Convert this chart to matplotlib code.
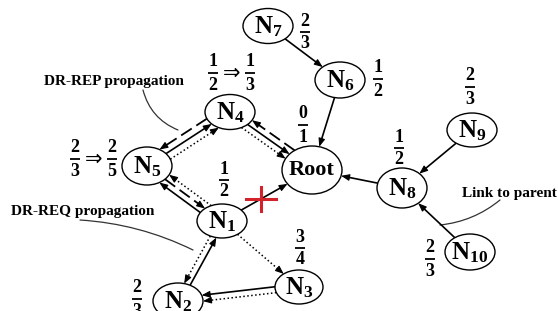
import numpy as np
import matplotlib.pyplot as plt
from matplotlib.patches import Ellipse, FancyArrowPatch

plt.rcParams['mathtext.fontset'] = 'custom'
plt.rcParams['mathtext.rm'] = 'Liberation Serif:bold'
plt.rcParams['mathtext.it'] = 'Liberation Serif:bold'
plt.rcParams['mathtext.bf'] = 'Liberation Serif:bold'

# ======================== DATA ============================
NODES = ['Root', 'N1', 'N2', 'N3', 'N4', 'N5', 'N6', 'N7', 'N8', 'N9', 'N10']
LABELS = ['Root', r'$\mathrm{N}_{1}$', r'$\mathrm{N}_{2}$', r'$\mathrm{N}_{3}$',
          r'$\mathrm{N}_{4}$', r'$\mathrm{N}_{5}$', r'$\mathrm{N}_{6}$',
          r'$\mathrm{N}_{7}$', r'$\mathrm{N}_{8}$', r'$\mathrm{N}_{9}$',
          r'$\mathrm{N}_{10}$']
# rank of each node (numerator, denominator), and the new rank after the update
RANK = [(0, 1), (1, 2), (2, 3), (3, 4), (1, 2), (2, 3), (1, 2), (2, 3), (1, 2), (2, 3), (2, 3)]
NEW_RANK = [None, None, None, None, (1, 3), (2, 5), None, None, None, None, None]

# (from, to, kind)   kind: parent = solid, req = dotted, rep = dashed
EDGES = [
    ('N7', 'N6', 'parent'), ('N6', 'Root', 'parent'), ('N9', 'N8', 'parent'),
    ('N10', 'N8', 'parent'), ('N8', 'Root', 'parent'), ('N1', 'Root', 'parent'),
    ('N4', 'Root', 'parent'), ('N4', 'Root', 'req'), ('Root', 'N4', 'rep'),
    ('N5', 'N4', 'parent'), ('N5', 'N4', 'req'), ('N4', 'N5', 'rep'),
    ('N5', 'N1', 'rep'), ('N1', 'N5', 'parent'), ('N1', 'N5', 'req'),
    ('N1', 'N2', 'req'), ('N2', 'N1', 'parent'), ('N1', 'N3', 'req'),
    ('N3', 'N2', 'parent'), ('N3', 'N2', 'req'),
]
BROKEN_LINK = ('N1', 'Root')

# ======================== LAYOUT (pixels) ============================
POS = {'Root': (312, 170), 'N1': (222, 221), 'N2': (178, 301), 'N3': (299, 287),
       'N4': (230, 112), 'N5': (147, 166), 'N6': (340, 80), 'N7': (268, 26),
       'N8': (402, 188), 'N9': (472, 130), 'N10': (470, 252)}
SIZE = {'Root': (60, 48), 'N1': (50, 34), 'N2': (50, 36), 'N3': (48, 34),
        'N4': (50, 35), 'N5': (50, 38), 'N6': (50, 36), 'N7': (50, 35),
        'N8': (50, 40), 'N9': (50, 34), 'N10': (50, 36)}
# position of the fraction bar
RANK_POS = {'Root': (303, 125), 'N1': (224, 180), 'N2': (137, 299), 'N3': (300, 248),
            'N4': (213, 73), 'N5': (75, 159), 'N6': (378, 79), 'N7': (305, 32),
            'N8': (399, 148), 'N9': (470, 87), 'N10': (430, 259)}
NEW_SHIFT = 37
# perpendicular offsets of parallel edges
OFFSET = {('N4', 'Root', 'req'): 6, ('Root', 'N4', 'rep'): 6,
          ('N5', 'N4', 'req'): 7, ('N4', 'N5', 'rep'): 7,
          ('N1', 'N5', 'parent'): -6, ('N1', 'N5', 'req'): 6,
          ('N1', 'N2', 'req'): 3, ('N2', 'N1', 'parent'): 3,
          ('N3', 'N2', 'parent'): 3, ('N3', 'N2', 'req'): -3}
STYLE = {'parent': dict(ls='-', lw=1.2),
         'req': dict(ls=(0, (1, 1.6)), lw=1.1),
         'rep': dict(ls=(0, (7, 3)), lw=1.3)}


def cross_t(p0, d, name, which):
    cx, cy = POS[name]
    rx, ry = SIZE[name][0] / 2, SIZE[name][1] / 2
    qx, qy = p0[0] - cx, p0[1] - cy
    A = (d[0] / rx) ** 2 + (d[1] / ry) ** 2
    B = 2 * (qx * d[0] / rx ** 2 + qy * d[1] / ry ** 2)
    C = (qx / rx) ** 2 + (qy / ry) ** 2 - 1
    disc = max(B * B - 4 * A * C, 0)
    r = [(-B - np.sqrt(disc)) / (2 * A), (-B + np.sqrt(disc)) / (2 * A)]
    return r[1] if which == 'exit' else r[0]


def edge_points(a, b, off=0):
    ca, cb = np.array(POS[a], float), np.array(POS[b], float)
    d = (cb - ca) / np.linalg.norm(cb - ca)
    perp = np.array([-d[1], d[0]])
    p0 = ca + off * perp
    s = p0 + cross_t(p0, d, a, 'exit') * d
    e = p0 + cross_t(p0, d, b, 'entry') * d
    return s, e, d


def fraction(x, y, num, den):
    kw = dict(fontsize=13, fontweight='bold', family='Liberation Serif',
              ha='center', va='center', zorder=5)
    ax.text(x, y - 11, str(num), **kw)
    ax.text(x, y + 12, str(den), **kw)
    ax.plot([x - 5, x + 5], [y, y], color='black', lw=1.3, solid_capstyle='butt', zorder=5)


fig = plt.figure(figsize=(5.58, 3.11), dpi=100)
ax = fig.add_axes([0, 0, 1, 1])
ax.set_xlim(0, 558)
ax.set_ylim(311, 0)
ax.axis('off')

for a, b, kind in EDGES:
    s, e, d = edge_points(a, b, OFFSET.get((a, b, kind), 0))
    st = STYLE[kind]
    tip = e - 6 * d
    ax.plot([s[0], tip[0]], [s[1], tip[1]], color='black', ls=st['ls'], lw=st['lw'],
            solid_capstyle='butt', zorder=2)
    ax.add_patch(FancyArrowPatch(e - 7 * d, e, arrowstyle='-|>,head_length=0.5,head_width=0.2',
                                 mutation_scale=10, color='black', lw=0.8,
                                 shrinkA=0, shrinkB=0, zorder=2))

# broken link
s, e, d = edge_points(*BROKEN_LINK)
cx, cy = s + 0.42 * (e - s)
ax.plot([cx - 15, cx + 15], [cy, cy], color='#d2232a', lw=2.2, zorder=4)
ax.plot([cx, cx], [cy - 12, cy + 12], color='#d2232a', lw=2.2, zorder=4)

for name, lab, rk, new in zip(NODES, LABELS, RANK, NEW_RANK):
    x, y = POS[name]
    w, h = SIZE[name]
    ax.add_patch(Ellipse((x, y), w, h, facecolor='white', edgecolor='black', lw=1.0, zorder=3))
    if name == 'Root':
        ax.text(x, y, lab, fontsize=16, fontweight='bold', family='Liberation Serif',
                ha='center', va='center', zorder=5)
    else:
        ax.text(x, y + 1, lab, fontsize=18, ha='center', va='center', zorder=5)
    rx, ry = RANK_POS[name]
    fraction(rx, ry, *rk)
    if new is not None:
        ax.text(rx + NEW_SHIFT / 2, ry, '\u21d2', fontsize=15, family='DejaVu Sans',
                ha='center', va='center', zorder=5)
        fraction(rx + NEW_SHIFT, ry, *new)

# annotations
font = dict(fontsize=11, fontweight='bold', family='Liberation Serif')
ax.text(114, 82, 'DR-REP propagation', ha='center', va='center', **font)
ax.text(83, 211, 'DR-REQ propagation', ha='center', va='center', **font)
ax.text(557, 193, 'Link to parent', ha='right', va='center', **font)
for p, q, rad in [((143, 90), (178, 130), 0.25), ((80, 220), (193, 250), -0.1),
                  ((440, 225), (500, 200), 0.15)]:
    ax.add_patch(FancyArrowPatch(p, q, arrowstyle='-', connectionstyle=f'arc3,rad={rad}',
                                 color='#333333', lw=0.9, shrinkA=0, shrinkB=0))

fig.savefig('out.png', dpi=100)
